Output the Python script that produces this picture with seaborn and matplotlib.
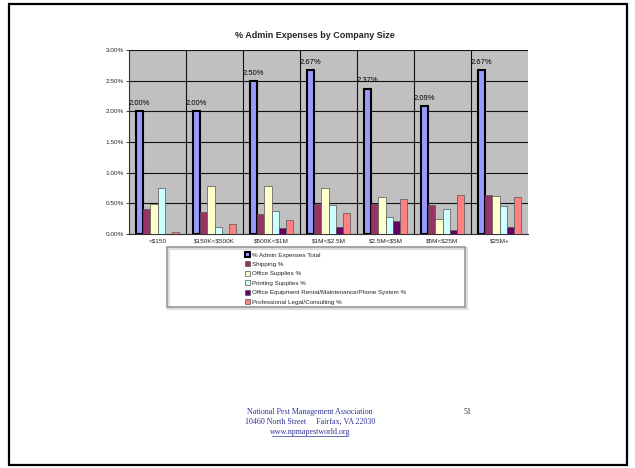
import matplotlib
matplotlib.use('Agg')
import matplotlib.pyplot as plt
from matplotlib.patches import Rectangle, Patch
from matplotlib.ticker import FuncFormatter, MultipleLocator
import pandas as pd
import seaborn as sns

# --------------------------------------------------
# data (percent)
sizes = ['<$150', '$150K<$500K', '$500K<$1M', '$1M<$2.5M',
         '$2.5M<$5M', '$5M<$25M', '$25M+']
series = ['% Admin Expenses Total', 'Shipping %', 'Office Supplies %',
          'Printing Supplies %',
          'Office Equipment Rental/Maintenance/Phone System %',
          'Professional Legal/Consulting %']
total = [2.00, 2.00, 2.50, 2.67, 2.37, 2.09, 2.67]
shipping = [0.40, 0.36, 0.32, 0.49, 0.49, 0.48, 0.64]
office = [0.49, 0.78, 0.79, 0.75, 0.61, 0.25, 0.62]
printing = [0.75, 0.12, 0.38, 0.48, 0.28, 0.40, 0.45]
equipment = [0.00, 0.00, 0.09, 0.11, 0.22, 0.07, 0.11]
legal = [0.04, 0.17, 0.23, 0.35, 0.57, 0.64, 0.61]
colors = ['#9999FF', '#993366', '#FFFFCC', '#CCFFFF', '#660066', '#FF8080']

W, H = 635, 468

rows = []
for name, vals in zip(series, [total, shipping, office, printing,
                               equipment, legal]):
    for size, v in zip(sizes, vals):
        rows.append({'size': size, 'series': name, 'value': v})
df = pd.DataFrame(rows)

sns.set_style('white')
plt.rcParams['font.family'] = ['Liberation Sans', 'DejaVu Sans']
plt.rcParams['text.parse_math'] = False  # "$" in the labels is literal

fig = plt.figure(figsize=(W / 100, H / 100), dpi=100)

# page border
fig.patches.append(Rectangle((9 / W, 1 - 465 / H), 618 / W, 461 / H,
                             transform=fig.transFigure, fill=False,
                             edgecolor='black', lw=1.6))

ax = fig.add_axes([129 / W, 1 - 234 / H, 399 / W, 184 / H])
ax.set_facecolor('#C0C0C0')

sns.barplot(data=df, x='size', y='value', hue='series', order=sizes,
            hue_order=series, palette=colors, width=0.77, gap=0,
            saturation=1, legend=False, ax=ax, zorder=3)

for i, cont in enumerate(ax.containers):
    for bar in cont:
        if i == 0:
            bar.set_edgecolor('black')
            bar.set_linewidth(1.5)
        else:
            bar.set_edgecolor('#555555')
            bar.set_linewidth(0.5)

# data labels on the total bars
for bar, v in zip(ax.containers[0], total):
    ax.annotate('{:.2f}%'.format(v),
                (bar.get_x() + bar.get_width() / 2, bar.get_height()),
                xytext=(0, 3), textcoords='offset points',
                ha='center', va='bottom', fontsize=5.5, color='black')

ax.set_ylim(0, 3.0)
ax.set_xlim(-0.5, len(sizes) - 0.5)
ax.yaxis.set_major_locator(MultipleLocator(0.5))
ax.yaxis.set_major_formatter(FuncFormatter(lambda v, p: '{:.2f}%'.format(v)))
ax.grid(axis='y', color='#111111', lw=0.8, zorder=1)
ax.set_axisbelow(True)
for k in range(1, len(sizes)):
    ax.axvline(k - 0.5, color='#111111', lw=0.8, zorder=1)

ax.tick_params(axis='y', labelsize=4.6, length=2, width=0.6, pad=1.5,
               left=True)
ax.tick_params(axis='x', labelsize=4.6, length=0, pad=3)
ax.set_xlabel('')
ax.set_ylabel('')
for side in ['top', 'right']:
    ax.spines[side].set_visible(False)
for side in ['left', 'bottom']:
    ax.spines[side].set_color('#333333')
    ax.spines[side].set_linewidth(0.8)

fig.text(315 / W, 1 - 36 / H, '% Admin Expenses by Company Size',
         ha='center', va='center', fontsize=6.5, fontweight='bold')

# legend
fig.patches.append(Rectangle((168 / W, 1 - 308 / H), 298 / W, 60 / H,
                             transform=fig.transFigure, fill=False,
                             edgecolor='#dddddd', lw=2.2))
fig.patches.append(Rectangle((167 / W, 1 - 307 / H), 298 / W, 60 / H,
                             transform=fig.transFigure, fill=False,
                             edgecolor='#999999', lw=1.2))
handles = []
for i, (name, col) in enumerate(zip(series, colors)):
    if i == 0:
        handles.append(Patch(facecolor=col, edgecolor='black', lw=1.5,
                             label=name))
    else:
        handles.append(Patch(facecolor=col, edgecolor='#555555', lw=0.5,
                             label=name))
fig.legend(handles=handles, loc='upper left',
           bbox_to_anchor=(240 / W, 1 - 247 / H), frameon=False,
           fontsize=4.5, handlelength=0.8, handleheight=0.8,
           handletextpad=0.3, labelspacing=0.62, borderpad=0.3)

# footer
foot = '#333399'
fig.text(310 / W, 1 - 412 / H, 'National Pest Management Association',
         ha='center', va='center', fontsize=5.8, color=foot,
         family='Liberation Serif')
fig.text(310 / W, 1 - 422 / H, '10460 North Street     Fairfax, VA 22030',
         ha='center', va='center', fontsize=5.8, color=foot,
         family='Liberation Serif')
fig.text(310 / W, 1 - 432 / H, 'www.npmapestworld.org',
         ha='center', va='center', fontsize=5.8, color=foot,
         family='Liberation Serif')
fig.lines.append(plt.Line2D([272 / W, 348 / W], [1 - 436 / H, 1 - 436 / H],
                            transform=fig.transFigure, color=foot, lw=0.5))
fig.text(468 / W, 1 - 412 / H, '51', ha='center', va='center',
         fontsize=5.8, color='#333333', family='Liberation Serif')

fig.savefig('out.png', dpi=100)
